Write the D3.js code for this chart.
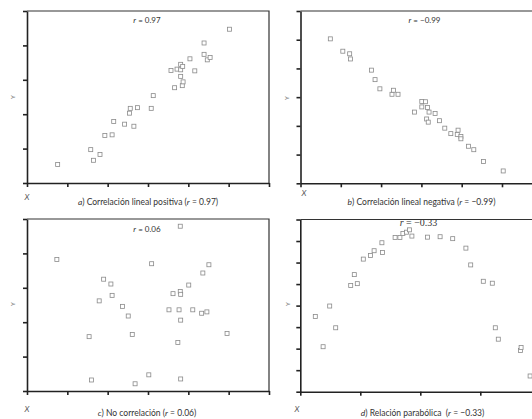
<!DOCTYPE html>
<html>
<head>
<meta charset="utf-8">
<script src="https://cdn.jsdelivr.net/npm/d3@7"></script>
<style>
  body { margin: 0; background: #fff; }
  svg { display: block; font-family: Lato, "Open Sans", sans-serif; }
  .axis path, .axis line { stroke: #222; }
</style>
</head>
<body>
<svg id="chart" width="532" height="419"></svg>
<script>
// a) positive linear correlation
const posX = [0.76, 1.58, 1.65, 1.81, 1.93, 2.11, 2.15, 2.42, 2.54, 2.56, 2.65, 2.74, 3.08, 3.13, 3.57,
  3.66, 3.72, 3.81, 3.81, 3.81, 3.85, 3.86, 3.87, 4.04, 4.16, 4.39, 4.39, 4.47, 4.54, 5.02];
const posY = [0.54, 0.97, 0.66, 0.83, 1.38, 1.40, 1.79, 1.71, 2.03, 2.17, 1.65, 2.19, 2.17, 2.54, 3.27,
  2.77, 3.31, 3.45, 3.29, 3.10, 2.83, 3.39, 2.94, 3.61, 3.26, 4.07, 3.74, 3.58, 3.65, 4.47];

// b) negative linear correlation
const negX = [0.74, 1.05, 1.22, 1.24, 1.76, 1.85, 1.97, 2.27, 2.31, 2.42, 2.83, 3.01, 3.01, 3.10, 3.15,
  3.19, 3.13, 3.17, 3.34, 3.45, 3.58, 3.73, 3.89, 3.91, 3.98, 3.98, 4.17, 4.30, 4.54, 5.03];
const negY = [5.03, 4.60, 4.51, 4.33, 3.94, 3.61, 3.29, 3.10, 3.24, 3.10, 2.48, 2.85, 2.66, 2.84, 2.64,
  2.48, 2.24, 2.13, 2.43, 2.18, 1.92, 1.73, 1.70, 1.85, 1.63, 1.55, 1.29, 1.17, 0.76, 0.43];

// c) no correlation
const noneX = [3.80, 0.74, 3.09, 4.51, 4.36, 1.90, 2.08, 4.01, 3.62, 3.80, 3.81, 2.11, 1.79, 2.37, 3.52,
  3.77, 4.11, 4.33, 4.46, 2.51, 3.81, 1.54, 2.61, 4.96, 3.74, 1.60, 2.68, 3.02, 3.81];
const noneY = [4.79, 3.82, 3.70, 3.67, 3.43, 3.25, 3.11, 3.08, 2.83, 2.89, 2.81, 2.78, 2.62, 2.46, 2.36,
  2.36, 2.36, 2.26, 2.30, 2.18, 2.06, 1.58, 1.64, 1.67, 1.41, 0.32, 0.21, 0.47, 0.35];

// d) parabolic relation
const parX = [0.25, 0.38, 0.49, 0.59, 0.84, 0.90, 0.95, 1.05, 1.17, 1.23, 1.36, 1.37, 1.58, 1.66, 1.71,
  1.77, 1.82, 1.86, 2.12, 2.33, 2.54, 2.76, 2.84, 3.05, 3.20, 3.25, 3.30, 3.67, 3.68, 3.83];
const parY = [3.49, 2.09, 3.98, 2.97, 4.93, 5.44, 5.02, 6.16, 6.33, 6.55, 6.92, 6.47, 7.16, 7.16, 7.35,
  7.41, 7.52, 7.23, 7.18, 7.20, 7.11, 6.67, 5.89, 5.13, 5.04, 2.97, 2.44, 1.91, 2.05, 0.73];

const letters = ['a', 'b', 'c', 'd'];
const captions = ['Correlación lineal positiva ', 'Correlación lineal negativa ', 'No correlación ', 'Relación parabólica \u00a0'];
const rLabels = ['0.97', '\u22120.99', '0.06', '\u22120.33'];

const panels = [
  {xs: posX, ys: posY, xMax: 6, yMax: 5, left: 27, right: 269, top: 11, bottom: 183,
    rPos: [147, 23], capPos: [148, 204.5], xLab: [27, 199.5], yLab: [12.5, 97]},
  {xs: negX, ys: negY, xMax: 6, yMax: 6, left: 300.5, right: 542.3, top: 11, bottom: 183.3,
    rPos: [424.5, 23], capPos: [421.5, 205], xLab: [304, 196], yLab: [286.5, 98]},
  {xs: noneX, ys: noneY, xMax: 6, yMax: 5, left: 27, right: 269, top: 219, bottom: 391,
    rPos: [147, 232], capPos: [147, 416], xLab: [27, 412], yLab: [12.5, 304]},
  {xs: parX, ys: parY, xMax: 4, yMax: 8, left: 300.3, right: 540.3, top: 219.5, bottom: 391.7,
    rPos: [418.5, 225.5], capPos: [422.5, 416], xLab: [297, 412], yLab: [287.5, 304], serifR: true}
];

const svg = d3.select('#chart');

panels.forEach((p, i) => {
  const x = d3.scaleLinear().domain([0, p.xMax]).range([p.left, p.right]);
  const y = d3.scaleLinear().domain([0, p.yMax]).range([p.bottom, p.top]);
  const g = svg.append('g');

  // frame: top and right borders
  g.append('path')
    .attr('d', `M${p.left},${p.top}H${p.right}V${p.bottom}`)
    .attr('fill', 'none')
    .attr('stroke', '#333')
    .attr('stroke-width', 1.2);

  g.append('g')
    .attr('class', 'axis')
    .attr('transform', `translate(0,${p.bottom})`)
    .call(d3.axisBottom(x).ticks(p.xMax).tickSize(4).tickSizeOuter(0).tickFormat(''))
    .call(a => a.selectAll('path, line').attr('stroke-width', 1.6));

  g.append('g')
    .attr('class', 'axis')
    .attr('transform', `translate(${p.left},0)`)
    .call(d3.axisLeft(y).ticks(p.yMax).tickSize(4).tickSizeOuter(0).tickFormat(''))
    .call(a => a.selectAll('path, line').attr('stroke-width', 1.6));

  g.selectAll('rect.pt')
    .data(d3.range(p.xs.length))
    .join('rect')
    .attr('class', 'pt')
    .attr('x', j => x(p.xs[j]) - 2)
    .attr('y', j => y(p.ys[j]) - 2)
    .attr('width', 4)
    .attr('height', 4)
    .attr('fill', '#fff')
    .attr('stroke', '#8a8a8a')
    .attr('stroke-width', 0.8);

  const rt = g.append('text')
    .attr('x', p.rPos[0])
    .attr('y', p.rPos[1])
    .attr('text-anchor', 'middle')
    .attr('font-size', p.serifR ? 10 : 8)
    .attr('font-family', p.serifR ? '"Liberation Serif", serif' : null)
    .attr('fill', '#333');
  rt.append('tspan').attr('font-style', 'italic').text('r');
  rt.append('tspan').text(' = ' + rLabels[i]);

  const cap = g.append('text')
    .attr('x', p.capPos[0])
    .attr('y', p.capPos[1])
    .attr('text-anchor', 'middle')
    .attr('font-size', 8.5)
    .attr('fill', '#333');
  cap.append('tspan').attr('font-style', 'italic').text(letters[i]);
  cap.append('tspan').text(') ' + captions[i] + '(');
  cap.append('tspan').attr('font-style', 'italic').text('r');
  cap.append('tspan').text(' = ' + rLabels[i] + ')');

  g.append('text')
    .attr('x', p.xLab[0])
    .attr('y', p.xLab[1])
    .attr('text-anchor', 'middle')
    .attr('font-size', 8)
    .attr('font-style', 'italic')
    .attr('fill', '#555')
    .text('X');

  g.append('text')
    .attr('transform', `translate(${p.yLab[0]},${p.yLab[1]}) rotate(-90)`)
    .attr('text-anchor', 'middle')
    .attr('dy', '0.35em')
    .attr('font-size', 6)
    .attr('fill', '#777')
    .text('Y');
});
</script>
</body>
</html>
